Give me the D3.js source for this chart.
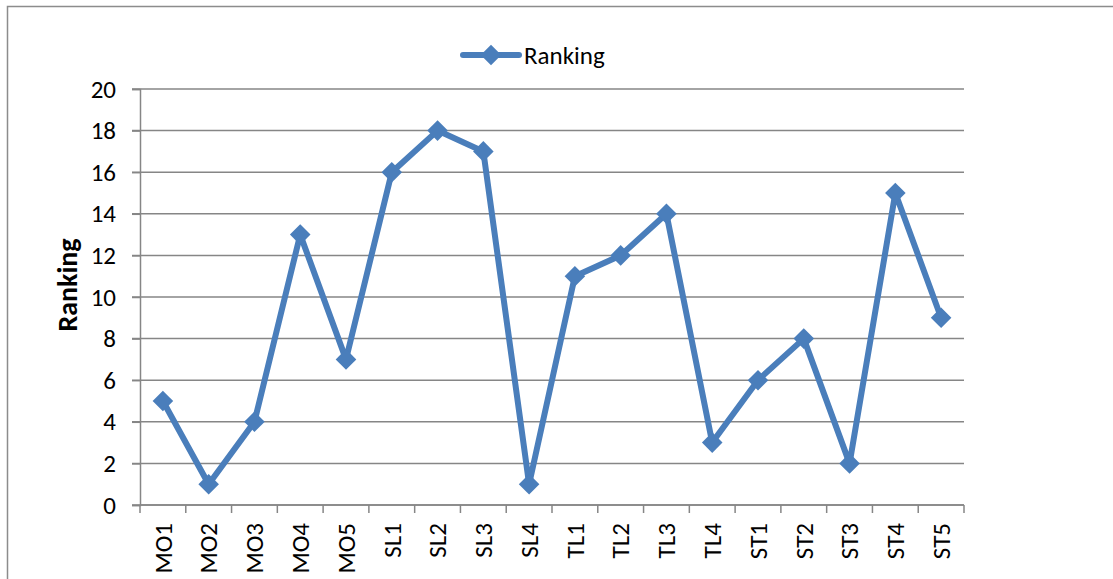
<!DOCTYPE html>
<html>
<head>
<meta charset="utf-8">
<script src="https://cdn.jsdelivr.net/npm/d3@7"></script>
<style>
  body { margin: 0; background: #fff; }
  svg text { font-family: Carlito, Calibri, Lato, "Open Sans", sans-serif; fill: #000; }
</style>
</head>
<body>
<div id="chart"></div>
<script>
// chart data
const categories = ["MO1", "MO2", "MO3", "MO4", "MO5", "SL1", "SL2", "SL3", "SL4",
                    "TL1", "TL2", "TL3", "TL4", "ST1", "ST2", "ST3", "ST4", "ST5"];
const ranking = [5, 1, 4, 13, 7, 16, 18, 17, 1, 11, 12, 14, 3, 6, 8, 2, 15, 9];
const yTicks = [0, 2, 4, 6, 8, 10, 12, 14, 16, 18, 20];
const seriesName = "Ranking";
const axisTitle = "Ranking";

const width = 1113, height = 579;
const margin = {top: 89, right: 149, bottom: 74, left: 140};
const lineColor = "#4a7ebb";
const gridColor = "#868686";
const fontSize = "25px";

const svg = d3.select("#chart").append("svg")
    .attr("width", width)
    .attr("height", height);

// outer frame (runs off the right and bottom edges)
svg.append("rect")
    .attr("x", 7.5).attr("y", 6.5)
    .attr("width", width + 20).attr("height", height + 20)
    .attr("fill", "none")
    .attr("stroke", "#8c8c8c")
    .attr("stroke-width", 1.5);

const innerW = width - margin.left - margin.right;
const innerH = height - margin.top - margin.bottom;

const g = svg.append("g")
    .attr("transform", `translate(${margin.left},${margin.top})`);

const x = d3.scaleBand()
    .domain(categories)
    .range([0, innerW]);

const y = d3.scaleLinear()
    .domain([0, 20])
    .range([innerH, 0]);

// gridlines
g.append("g")
    .selectAll("line")
    .data(yTicks)
    .enter()
    .append("line")
    .attr("x1", -8)
    .attr("x2", innerW)
    .attr("y1", d => y(d))
    .attr("y2", d => y(d))
    .attr("stroke", gridColor)
    .attr("stroke-width", 1.5);

// y axis
const yAxis = g.append("g")
    .call(d3.axisLeft(y).tickValues(yTicks).tickSize(8).tickPadding(16));
yAxis.select(".domain").attr("stroke", gridColor).attr("stroke-width", 1.5);
yAxis.selectAll(".tick line").attr("stroke", gridColor).attr("stroke-width", 1.5);
yAxis.selectAll("text").style("font-size", fontSize);

// x axis with ticks between categories
const xAxis = g.append("g")
    .attr("transform", `translate(0,${innerH})`)
    .call(d3.axisBottom(x).tickSize(0).tickPadding(0));
xAxis.select(".domain").remove();
xAxis.append("line")
    .attr("x1", 0).attr("x2", innerW)
    .attr("stroke", gridColor).attr("stroke-width", 1.5);
xAxis.selectAll(".sep")
    .data(d3.range(categories.length + 1))
    .enter()
    .append("line")
    .attr("class", "sep")
    .attr("x1", i => i * x.step())
    .attr("x2", i => i * x.step())
    .attr("y1", 0).attr("y2", 8)
    .attr("stroke", gridColor).attr("stroke-width", 1.5);
xAxis.selectAll(".tick text")
    .style("font-size", fontSize)
    .attr("text-anchor", "end")
    .attr("dy", "0.35em")
    .attr("transform", "translate(0,18) rotate(-90)");

// y axis title
svg.append("text")
    .attr("transform", "translate(77,285) rotate(-90)")
    .attr("text-anchor", "middle")
    .style("font-size", "28px")
    .style("font-weight", "bold")
    .text(axisTitle);

// line
const line = d3.line()
    .x((d, i) => x(categories[i]) + x.bandwidth() / 2)
    .y(d => y(d));

g.append("path")
    .datum(ranking)
    .attr("d", line)
    .attr("fill", "none")
    .attr("stroke", lineColor)
    .attr("stroke-width", 6)
    .attr("stroke-linejoin", "round");

const diamond = d3.symbol().type(d3.symbolDiamond2).size(270);

g.selectAll(".marker")
    .data(ranking)
    .enter()
    .append("path")
    .attr("class", "marker")
    .attr("d", diamond)
    .attr("transform", (d, i) => `translate(${x(categories[i]) + x.bandwidth() / 2},${y(d)})`)
    .attr("fill", lineColor);

// legend
const legend = svg.append("g").attr("transform", "translate(463,55)");
legend.append("line")
    .attr("x1", 0).attr("x2", 56)
    .attr("stroke", lineColor)
    .attr("stroke-width", 6)
    .attr("stroke-linecap", "round");
legend.append("path")
    .attr("d", diamond)
    .attr("transform", "translate(28,0)")
    .attr("fill", lineColor);
legend.append("text")
    .attr("x", 61)
    .attr("dy", "0.35em")
    .style("font-size", fontSize)
    .text(seriesName);
</script>
</body>
</html>
